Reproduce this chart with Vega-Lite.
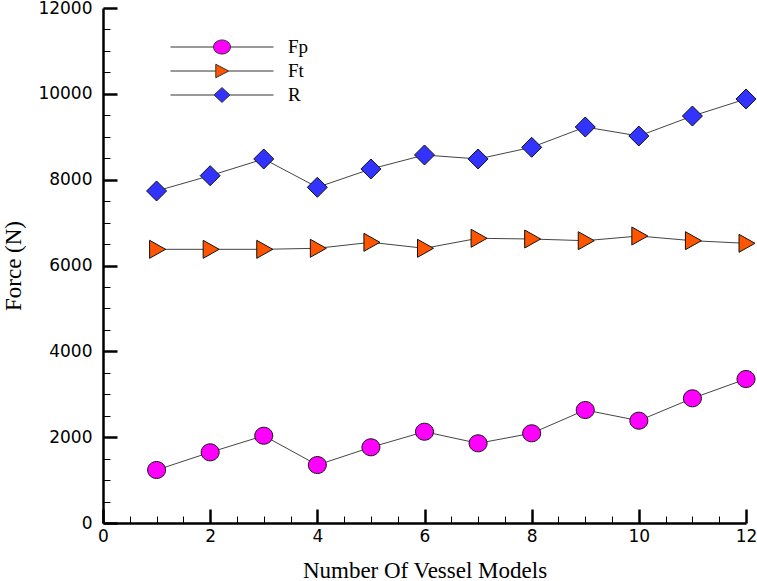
{
  "$schema": "https://vega.github.io/schema/vega-lite/v6.json",
  "width": 643,
  "height": 515,
  "autosize": {"type": "none"},
  "padding": {"left": 103, "top": 8, "right": 11, "bottom": 58},
  "background": "white",
  "config": {
    "view": {"stroke": null},
    "axis": {
      "grid": false,
      "domainColor": "#000",
      "tickColor": "#000",
      "labelColor": "#000",
      "titleColor": "#000",
      "labelFont": "DejaVu Sans",
      "labelFontSize": 17,
      "titleFont": "Liberation Serif",
      "titleFontSize": 23,
      "titleFontWeight": "normal"
    },
    "legend": {
      "orient": "none",
      "legendX": 105,
      "legendY": 25,
      "symbolSize": 729,
      "symbolStrokeWidth": 1,
      "symbolStrokeColor": "#333",
      "labelFont": "Liberation Serif",
      "labelFontSize": 19,
      "labelColor": "#000",
      "labelOffset": 52,
      "rowPadding": 0
    }
  },
  "data": {
    "values": [
      {"n": 1, "series": "Fp", "force": 1235},
      {"n": 2, "series": "Fp", "force": 1647},
      {"n": 3, "series": "Fp", "force": 2034},
      {"n": 4, "series": "Fp", "force": 1351},
      {"n": 5, "series": "Fp", "force": 1764},
      {"n": 6, "series": "Fp", "force": 2127},
      {"n": 7, "series": "Fp", "force": 1857},
      {"n": 8, "series": "Fp", "force": 2090},
      {"n": 9, "series": "Fp", "force": 2633},
      {"n": 10, "series": "Fp", "force": 2384},
      {"n": 11, "series": "Fp", "force": 2905},
      {"n": 12, "series": "Fp", "force": 3355},
      {"n": 1, "series": "Ft", "force": 6377},
      {"n": 2, "series": "Ft", "force": 6377},
      {"n": 3, "series": "Ft", "force": 6377},
      {"n": 4, "series": "Ft", "force": 6401},
      {"n": 5, "series": "Ft", "force": 6540},
      {"n": 6, "series": "Ft", "force": 6401},
      {"n": 7, "series": "Ft", "force": 6634},
      {"n": 8, "series": "Ft", "force": 6617},
      {"n": 9, "series": "Ft", "force": 6578},
      {"n": 10, "series": "Ft", "force": 6687},
      {"n": 11, "series": "Ft", "force": 6578},
      {"n": 12, "series": "Ft", "force": 6517},
      {"n": 1, "series": "R", "force": 7736},
      {"n": 2, "series": "R", "force": 8093},
      {"n": 3, "series": "R", "force": 8482},
      {"n": 4, "series": "R", "force": 7822},
      {"n": 5, "series": "R", "force": 8249},
      {"n": 6, "series": "R", "force": 8575},
      {"n": 7, "series": "R", "force": 8482},
      {"n": 8, "series": "R", "force": 8754},
      {"n": 9, "series": "R", "force": 9227},
      {"n": 10, "series": "R", "force": 9017},
      {"n": 11, "series": "R", "force": 9483},
      {"n": 12, "series": "R", "force": 9880}
    ]
  },
  "layer": [
    {
      "mark": {"type": "line", "color": "#444", "strokeWidth": 1},
      "encoding": {
        "x": {
          "field": "n", "type": "quantitative",
          "scale": {"domain": [0, 12], "nice": false, "zero": false},
          "axis": {
            "orient": "bottom",
            "values": [0, 2, 4, 6, 8, 10, 12],
            "tickSize": -14, "tickWidth": 2.5, "domainWidth": 2.5,
            "labelPadding": 19, "labelFlush": false, "labelOverlap": false,
            "title": "Number Of Vessel Models", "titlePadding": 15
          }
        },
        "y": {
          "field": "force", "type": "quantitative",
          "scale": {"domain": [0, 12000], "nice": false},
          "axis": {
            "orient": "left",
            "values": [0, 2000, 4000, 6000, 8000, 10000, 12000],
            "format": "d",
            "tickSize": -14, "tickWidth": 2.5, "domainWidth": 2.5,
            "labelPadding": 25, "labelFlush": false, "labelOverlap": false,
            "title": "Force (N)", "titlePadding": 12
          }
        },
        "detail": {"field": "series", "type": "nominal"}
      }
    },
    {
      "transform": [{"filter": "datum.series === 'Fp'"}],
      "mark": {"type": "point", "filled": true, "size": 400, "stroke": "#111", "strokeWidth": 1, "opacity": 1, "shape": "M-0.9,0A0.9,0.85,0,1,1,0.9,0A0.9,0.85,0,1,1,-0.9,0Z"},
      "encoding": {
        "x": {
          "field": "n", "type": "quantitative",
          "axis": {
            "orient": "bottom",
            "values": [0.5, 1, 1.5, 2.5, 3, 3.5, 4.5, 5, 5.5, 6.5, 7, 7.5, 8.5, 9, 9.5, 10.5, 11, 11.5],
            "tickSize": -7, "tickWidth": 1, "domain": false, "labels": false, "title": null
          }
        },
        "y": {
          "field": "force", "type": "quantitative",
          "axis": {
            "orient": "left",
            "values": [500, 1000, 1500, 2500, 3000, 3500, 4500, 5000, 5500, 6500, 7000, 7500, 8500, 9000, 9500, 10500, 11000, 11500],
            "tickSize": -7, "tickWidth": 1, "domain": false, "labels": false, "title": null
          }
        },
        "fill": {
          "field": "series", "type": "nominal",
          "scale": {"domain": ["Fp", "Ft", "R"], "range": ["#FF00FF", "#FF5500", "#3333FF"]},
          "legend": {
            "title": null,
            "encoding": {
              "symbols": {
                "shape": {
                  "condition": [
                    {"test": "datum.value === 'Fp'", "value": "M-3.815,0H-0.63M0.63,0H3.815M-0.63,0A0.63,0.52,0,1,1,0.63,0A0.63,0.52,0,1,1,-0.63,0Z"},
                    {"test": "datum.value === 'Ft'", "value": "M-3.815,0H-0.46M0.5,0H3.815M-0.46,-0.5L0.5,0L-0.46,0.5Z"}
                  ],
                  "value": "M-3.815,0H-0.59M0.59,0H3.815M-0.59,0L0,-0.55L0.59,0L0,0.55Z"
                },
                "stroke": {"value": "#333"},
                "strokeWidth": {"value": 1}
              }
            }
          }
        }
      }
    },
    {
      "transform": [{"filter": "datum.series === 'Ft'"}],
      "mark": {"type": "point", "filled": true, "size": 400, "stroke": "#111", "strokeWidth": 1, "opacity": 1, "shape": "M-0.7,-0.9L0.9,0L-0.7,0.9Z"},
      "encoding": {
        "x": {"field": "n", "type": "quantitative", "axis": null},
        "y": {"field": "force", "type": "quantitative", "axis": null},
        "fill": {
          "field": "series", "type": "nominal",
          "legend": {
            "title": null,
            "encoding": {
              "symbols": {
                "shape": {
                  "condition": [
                    {"test": "datum.value === 'Fp'", "value": "M-3.815,0H-0.63M0.63,0H3.815M-0.63,0A0.63,0.52,0,1,1,0.63,0A0.63,0.52,0,1,1,-0.63,0Z"},
                    {"test": "datum.value === 'Ft'", "value": "M-3.815,0H-0.46M0.5,0H3.815M-0.46,-0.5L0.5,0L-0.46,0.5Z"}
                  ],
                  "value": "M-3.815,0H-0.59M0.59,0H3.815M-0.59,0L0,-0.55L0.59,0L0,0.55Z"
                },
                "stroke": {"value": "#333"},
                "strokeWidth": {"value": 1}
              }
            }
          }
        }
      }
    },
    {
      "transform": [{"filter": "datum.series === 'R'"}],
      "mark": {"type": "point", "filled": true, "size": 400, "stroke": "#111", "strokeWidth": 1, "opacity": 1, "shape": "M-1,0L0,-1L1,0L0,1Z"},
      "encoding": {
        "x": {"field": "n", "type": "quantitative", "axis": null},
        "y": {"field": "force", "type": "quantitative", "axis": null},
        "fill": {
          "field": "series", "type": "nominal",
          "legend": {
            "title": null,
            "encoding": {
              "symbols": {
                "shape": {
                  "condition": [
                    {"test": "datum.value === 'Fp'", "value": "M-3.815,0H-0.63M0.63,0H3.815M-0.63,0A0.63,0.52,0,1,1,0.63,0A0.63,0.52,0,1,1,-0.63,0Z"},
                    {"test": "datum.value === 'Ft'", "value": "M-3.815,0H-0.46M0.5,0H3.815M-0.46,-0.5L0.5,0L-0.46,0.5Z"}
                  ],
                  "value": "M-3.815,0H-0.59M0.59,0H3.815M-0.59,0L0,-0.55L0.59,0L0,0.55Z"
                },
                "stroke": {"value": "#333"},
                "strokeWidth": {"value": 1}
              }
            }
          }
        }
      }
    }
  ],
  "resolve": {"axis": {"x": "independent", "y": "independent"}}
}
